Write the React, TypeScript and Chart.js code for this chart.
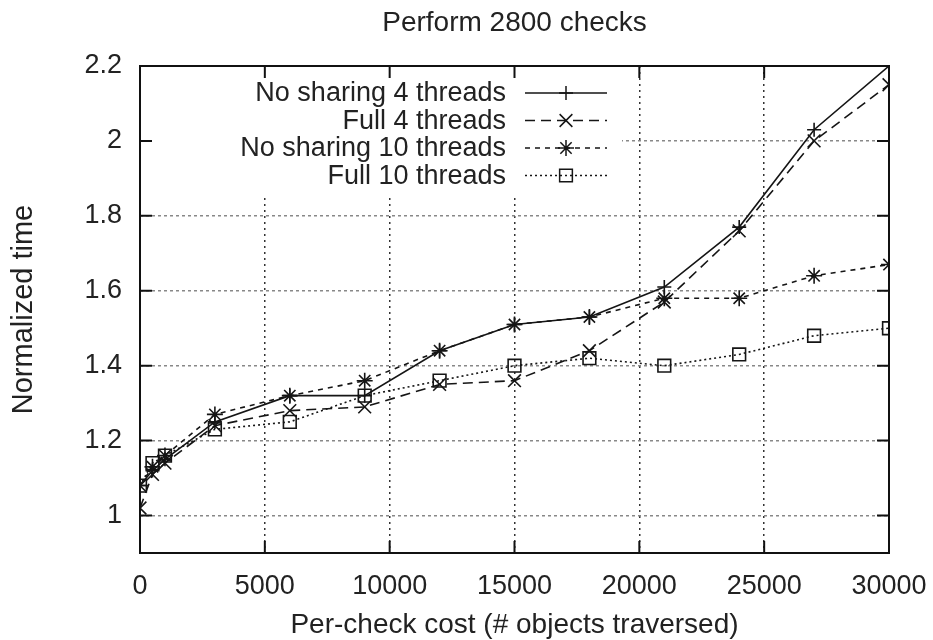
import React, { useEffect, useRef } from "react";
import { Chart, registerables } from "chart.js";

Chart.register(...registerables);

const X_VALUES = [0, 500, 1000, 3000, 6000, 9000, 12000, 15000, 18000, 21000, 24000, 27000, 30000];
const NOSHARE_4 = [1.08, 1.12, 1.15, 1.25, 1.32, 1.32, 1.44, 1.51, 1.53, 1.61, 1.77, 2.03, 2.2];
const FULL_4 = [1.02, 1.11, 1.14, 1.24, 1.28, 1.29, 1.35, 1.36, 1.44, 1.57, 1.76, 2.0, 2.15];
const NOSHARE_10 = [1.08, 1.13, 1.16, 1.27, 1.32, 1.36, 1.44, 1.51, 1.53, 1.58, 1.58, 1.64, 1.67];
const FULL_10 = [1.08, 1.14, 1.16, 1.23, 1.25, 1.32, 1.36, 1.4, 1.42, 1.4, 1.43, 1.48, 1.5];
const SERIES_LABELS = ["No sharing 4 threads", "Full 4 threads", "No sharing 10 threads", "Full 10 threads"];
const X_TICKS = [0, 5000, 10000, 15000, 20000, 25000, 30000];
const Y_TICKS = [1, 1.2, 1.4, 1.6, 1.8, 2, 2.2];
const TITLE = "Perform 2800 checks";
const X_TITLE = "Per-check cost (# objects traversed)";
const Y_TITLE = "Normalized time";

const FONT_FAMILY = "'Liberation Sans', Arial, Helvetica, sans-serif";
const TEXT_COLOR = "#222";
const LINE_COLOR = "#151515";

const STYLES = [
  { dash: [] as number[], point: "cross", radius: 7 },
  { dash: [10, 6], point: "crossRot", radius: 9 },
  { dash: [5, 5], point: "star", radius: 8 },
  { dash: [2, 3], point: "rect", radius: 9 },
];

function drawMarker(ctx: CanvasRenderingContext2D, style: string, x: number, y: number, r: number) {
  ctx.beginPath();
  if (style === "cross" || style === "star") {
    ctx.moveTo(x - r, y);
    ctx.lineTo(x + r, y);
    ctx.moveTo(x, y - r);
    ctx.lineTo(x, y + r);
  }
  if (style === "crossRot" || style === "star") {
    const d = r * Math.SQRT1_2;
    ctx.moveTo(x - d, y - d);
    ctx.lineTo(x + d, y + d);
    ctx.moveTo(x - d, y + d);
    ctx.lineTo(x + d, y - d);
  }
  if (style === "rect") {
    const s = r * Math.SQRT1_2;
    ctx.rect(x - s, y - s, 2 * s, 2 * s);
  }
  ctx.stroke();
}

const legendPlugin = {
  id: "gpLegend",
  beforeDatasetsDraw(chart: any) {
    const { ctx, chartArea } = chart;
    const L = chartArea.left;
    const T = chartArea.top;
    ctx.save();
    ctx.fillStyle = "#fff";
    ctx.fillRect(L + 1, T + 1, 481, 128);
    ctx.font = `27px ${FONT_FAMILY}`;
    ctx.textAlign = "right";
    ctx.textBaseline = "middle";
    SERIES_LABELS.forEach((label, i) => {
      const y = T + 27 + i * 27.5;
      ctx.fillStyle = TEXT_COLOR;
      ctx.fillText(label, L + 366, y + 1);
      ctx.strokeStyle = LINE_COLOR;
      ctx.lineWidth = 1.5;
      ctx.setLineDash(STYLES[i].dash);
      ctx.beginPath();
      ctx.moveTo(L + 385, y);
      ctx.lineTo(L + 467, y);
      ctx.stroke();
      ctx.setLineDash([]);
      drawMarker(ctx, STYLES[i].point, L + 426, y, STYLES[i].radius);
    });
    ctx.restore();
  },
};

const framePlugin = {
  id: "gpFrame",
  afterDatasetsDraw(chart: any) {
    const { ctx, chartArea, scales } = chart;
    const { left, right, top, bottom } = chartArea;
    ctx.save();
    ctx.strokeStyle = "#111";
    ctx.lineWidth = 2;
    ctx.setLineDash([]);
    ctx.strokeRect(left, top, right - left, bottom - top);
    const tl = 12;
    ctx.beginPath();
    X_TICKS.forEach((v) => {
      const px = scales.x.getPixelForValue(v);
      ctx.moveTo(px, bottom);
      ctx.lineTo(px, bottom - tl);
      ctx.moveTo(px, top);
      ctx.lineTo(px, top + tl);
    });
    Y_TICKS.forEach((v) => {
      const py = scales.y.getPixelForValue(v);
      ctx.moveTo(left, py);
      ctx.lineTo(left + tl, py);
      ctx.moveTo(right, py);
      ctx.lineTo(right - tl, py);
    });
    ctx.stroke();
    ctx.restore();
  },
};

export default function App() {
  const ref = useRef<HTMLCanvasElement | null>(null);

  useEffect(() => {
    if (!ref.current) return;
    const seriesValues = [NOSHARE_4, FULL_4, NOSHARE_10, FULL_10];
    const datasets = seriesValues.map((vals, i) => ({
      label: SERIES_LABELS[i],
      data: X_VALUES.map((x, j) => ({ x, y: vals[j] })),
      borderColor: LINE_COLOR,
      borderWidth: 1.6,
      borderDash: STYLES[i].dash,
      pointStyle: STYLES[i].point,
      pointRadius: STYLES[i].radius,
      pointBorderColor: LINE_COLOR,
      pointBackgroundColor: "rgba(0,0,0,0)",
      pointBorderWidth: 1.6,
      fill: false,
      tension: 0,
    }));

    const chart = new Chart(ref.current, {
      type: "line",
      data: { datasets },
      options: {
        responsive: false,
        animation: false,
        layout: { padding: { left: 0, right: 44, top: 0, bottom: 0 } },
        plugins: {
          legend: { display: false },
          tooltip: { enabled: false },
          title: {
            display: true,
            text: TITLE,
            fullSize: false,
            color: TEXT_COLOR,
            font: { family: FONT_FAMILY, size: 28, weight: "normal", lineHeight: 1.2 },
            padding: { top: 6.2, bottom: 26.2 },
          },
        },
        scales: {
          x: {
            type: "linear",
            min: 0,
            max: 30000,
            afterFit: (s: any) => {
              s.height = 87;
              s.paddingLeft = 0;
              s.paddingRight = 0;
            },
            afterBuildTicks: (s: any) => {
              s.ticks = X_TICKS.map((v) => ({ value: v }));
            },
            ticks: {
              color: TEXT_COLOR,
              font: { family: FONT_FAMILY, size: 27 },
              padding: 17,
              maxRotation: 0,
              autoSkip: false,
              callback: (v: any) => String(v),
            },
            grid: {
              color: "#333",
              lineWidth: 1.5,
              drawTicks: false,
            },
            border: { display: false, dash: [2, 4] },
            title: {
              display: true,
              text: X_TITLE,
              color: TEXT_COLOR,
              font: { family: FONT_FAMILY, size: 28, lineHeight: 1 },
              padding: { top: 0, bottom: 1 },
            },
          },
          y: {
            type: "linear",
            min: 0.9,
            max: 2.2,
            afterFit: (s: any) => {
              s.width = 140;
              s.paddingTop = 0;
              s.paddingBottom = 0;
            },
            afterBuildTicks: (s: any) => {
              s.ticks = Y_TICKS.map((v) => ({ value: v }));
            },
            ticks: {
              color: TEXT_COLOR,
              font: { family: FONT_FAMILY, size: 27 },
              padding: 18,
              autoSkip: false,
              callback: (v: any) => String(Math.round(Number(v) * 10) / 10),
            },
            grid: {
              color: "#888",
              lineWidth: 1.5,
              drawTicks: false,
            },
            border: { display: false, dash: [3, 3] },
            title: {
              display: true,
              text: Y_TITLE,
              color: TEXT_COLOR,
              font: { family: FONT_FAMILY, size: 29, lineHeight: 1 },
              padding: { top: 9.5, bottom: 0 },
            },
          },
        },
      } as any,
      plugins: [legendPlugin, framePlugin],
    });
    return () => chart.destroy();
  }, []);

  return (
    <div style={{ position: "absolute", left: 0, top: 0, width: 933, height: 640, background: "#fff" }}>
      <canvas ref={ref} width={933} height={640} style={{ display: "block" }} />
    </div>
  );
}
